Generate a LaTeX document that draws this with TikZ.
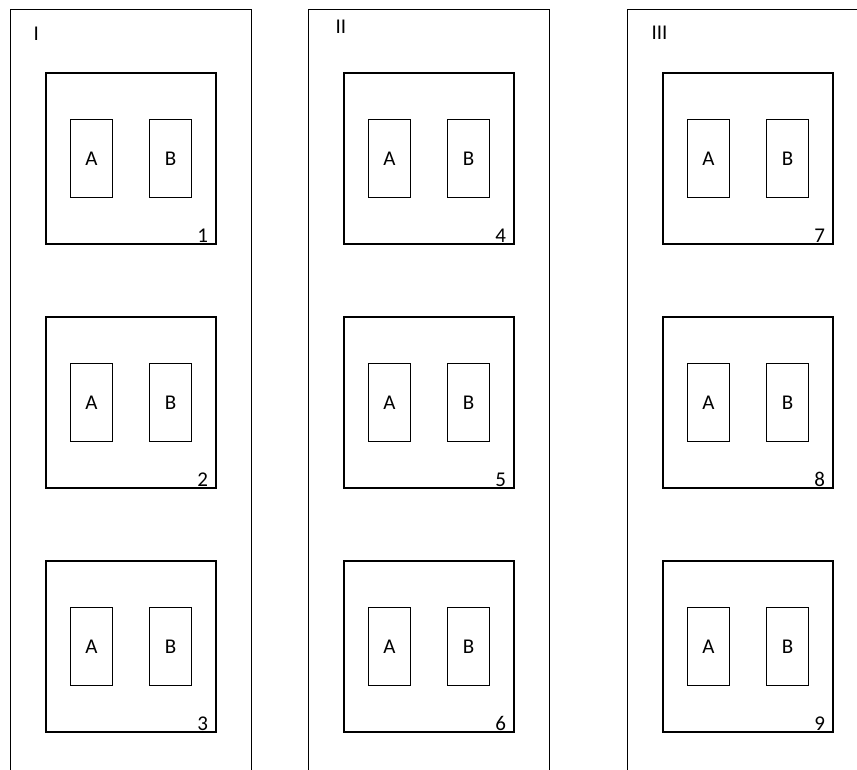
\documentclass[tikz,border=0pt]{standalone}
\usepackage{fontspec}
\setmainfont{Carlito}
\usetikzlibrary{positioning}

\begin{document}
\begin{tikzpicture}[x=1pt, y=-1pt, line width=1.2pt, node distance=18pt,
  every node/.style={font=\fontsize{21}{25}\selectfont},
  bay/.style={draw, anchor=north west, inner sep=0pt, minimum width=241pt, minimum height=790pt},
  unit/.style={draw, inner sep=0pt, minimum width=170pt, minimum height=171pt},
  slot/.style={draw, inner sep=0pt, minimum width=42pt, minimum height=78pt},
  tag/.style={inner sep=0pt}]
  \useasboundingbox (0,0) rectangle (857,769);
  \clip (0,0) rectangle (857,769);
  % the three bays, open at the bottom
  \node[bay] (b1) at (10,9) {};
  \node[bay] (b2) at (308,9) {};
  \node[bay] (b3) at (627,9) {};
  \node[tag, anchor=base west] (l1) at (33,40) {I};
  \node[tag, anchor=base west] (l2) at (335,33) {II};
  \node[tag, anchor=base west] (l3) at (651,39) {III};
  % units with their A and B slots
  \foreach \c/\x in {1/131, 2/429, 3/748}
    \foreach \r/\y in {1/158.5, 2/402.5, 3/646.5} {
      \pgfmathtruncatemacro\n{3*(\c-1)+\r}
      \node[unit] (u\n) at (\x,\y) {};
      \node[slot, left=of u\n.center] (a\n) {A};
      \node[slot, right=of u\n.center] (s\n) {B};
      \node[tag, anchor=base east] (n\n) at ([xshift=-8pt, yshift=2pt]u\n.south east) {\n};
    }
\end{tikzpicture}
\end{document}
